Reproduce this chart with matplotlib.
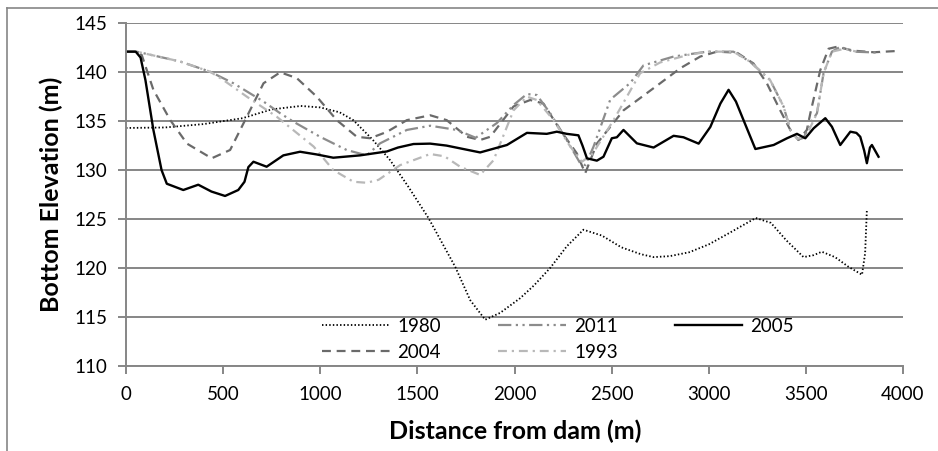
import matplotlib
matplotlib.use("Agg")
import matplotlib.pyplot as plt
from matplotlib.lines import Line2D

plt.rcParams["font.family"] = ["Lato", "DejaVu Sans"]

# ------------------------------------------------------------
# Data (distance m, elevation m)
# ------------------------------------------------------------
x_1980 = [0, 200, 400, 600, 750, 900, 1000, 1100, 1170, 1270, 1360, 1450, 1557,
          1695, 1772, 1849, 1926, 2029, 2100, 2184, 2269, 2355, 2450, 2550, 2650,
          2716, 2800, 2900, 3000, 3100, 3242, 3320, 3400, 3488, 3540, 3582, 3650,
          3720, 3789, 3805, 3814]
y_1980 = [134.3, 134.35, 134.7, 135.3, 136.2, 136.55, 136.4, 135.9, 135.1, 133.1,
          131.0, 128.4, 125.1, 120.1, 116.7, 114.7, 115.4, 116.9, 118.2, 120.0,
          122.2, 123.9, 123.3, 122.1, 121.4, 121.1, 121.2, 121.6, 122.4, 123.5,
          125.1, 124.6, 122.8, 121.1, 121.3, 121.65, 121.1, 120.1, 119.3, 121.5,
          125.9]

x_2011 = [0, 55, 278, 433, 553, 708, 794, 862, 999, 1136, 1239, 1308, 1446, 1566,
          1703, 1800, 1909, 1995, 2064, 2115, 2184, 2269, 2338, 2365, 2407, 2493,
          2596, 2664, 2819, 2990, 3127, 3213, 3316, 3385, 3420, 3454, 3489, 3523,
          3557, 3591, 3634, 3677, 3746, 3883]
y_2011 = [142.1, 142.1, 141.1, 140.05, 138.87, 137.0, 135.8, 134.94, 133.4, 132.05,
          131.5, 132.73, 134.1, 134.53, 134.1, 133.3, 134.8, 136.65, 137.77, 137.67,
          135.8, 133.07, 130.7, 130.5, 132.4, 137.2, 138.9, 140.7, 141.6, 142.1,
          142.1, 141.07, 139.2, 136.5, 134.1, 133.07, 133.3, 134.8, 135.8, 139.9,
          142.1, 142.6, 142.1, 142.0]

x_2005 = [0, 50, 75, 100, 141, 183, 210, 295, 372, 440, 510, 578, 610, 630, 656,
          724, 810, 896, 980, 1067, 1205, 1343, 1400, 1480, 1566, 1650, 1823, 1961,
          2064, 2166, 2218, 2269, 2329, 2350, 2373, 2424, 2458, 2501, 2527, 2561,
          2630, 2716, 2819, 2870, 2948, 3008, 3060, 3102, 3140, 3179, 3240, 3334,
          3403, 3454, 3497, 3540, 3600, 3634, 3677, 3729, 3760, 3780, 3800, 3814,
          3830, 3840, 3874]
y_2005 = [142.1, 142.1, 141.5, 139.2, 134.1, 130.0, 128.6, 127.96, 128.5, 127.8,
          127.35, 127.96, 128.8, 130.3, 130.85, 130.34, 131.5, 131.87, 131.6,
          131.26, 131.5, 131.9, 132.3, 132.66, 132.7, 132.5, 131.8, 132.56, 133.8,
          133.7, 133.92, 133.7, 133.55, 132.5, 131.2, 130.96, 131.36, 133.25,
          133.35, 134.1, 132.73, 132.3, 133.5, 133.35, 132.7, 134.4, 136.8, 138.2,
          137.0, 135.1, 132.15, 132.56, 133.25, 133.7, 133.25, 134.27, 135.3,
          134.43, 132.56, 133.92, 133.8, 133.4, 132.0, 130.7, 132.3, 132.56, 131.36]

x_2004 = [0, 50, 81, 141, 228, 314, 441, 536, 622, 708, 794, 879, 982, 1085, 1188,
          1257, 1343, 1446, 1566, 1651, 1755, 1823, 1875, 1995, 2081, 2149, 2235,
          2321, 2364, 2424, 2561, 2650, 2750, 2853, 2956, 3042, 3145, 3230, 3299,
          3368, 3420, 3462, 3505, 3523, 3574, 3617, 3660, 3746, 3849, 3969]
y_2004 = [142.1, 142.1, 141.76, 138.2, 135.1, 132.7, 131.2, 132.05, 135.45, 138.87,
          139.99, 139.4, 137.5, 135.1, 133.4, 133.25, 133.9, 135.1, 135.6, 135.1,
          133.4, 133.07, 133.4, 136.5, 137.16, 136.8, 134.1, 131.7, 129.67, 132.7,
          136.1, 137.4, 138.87, 140.4, 141.6, 142.1, 142.0, 140.9, 138.87, 136.1,
          134.1, 133.07, 134.1, 135.8, 140.2, 142.4, 142.6, 142.2, 142.04, 142.17]

x_1993 = [0, 55, 278, 433, 501, 622, 776, 966, 1067, 1171, 1239, 1300, 1411, 1566,
          1640, 1720, 1823, 1892, 1995, 2064, 2115, 2201, 2287, 2347, 2400, 2510,
          2647, 2750, 2900, 3000, 3127, 3213, 3316, 3385, 3420, 3454, 3500, 3557,
          3591, 3634, 3700, 3760]
y_1993 = [142.1, 142.1, 141.1, 140.05, 139.2, 137.5, 135.45, 132.4, 130.0, 128.8,
          128.7, 129.0, 130.5, 131.64, 131.4, 130.34, 129.5, 131.0, 136.1, 137.5,
          137.16, 135.1, 132.4, 130.85, 131.6, 135.1, 139.9, 141.0, 141.8, 142.1,
          142.1, 141.07, 139.2, 136.5, 134.1, 133.2, 133.4, 135.8, 139.9, 142.1,
          142.4, 142.1]

x_ticks = [0, 500, 1000, 1500, 2000, 2500, 3000, 3500, 4000]
y_ticks = [110, 115, 120, 125, 130, 135, 140, 145]

grid_color = "#868686"

fig = plt.figure(figsize=(9.38, 4.51), dpi=100)
ax = fig.add_axes([126 / 938, 1 - 365.7 / 451, (903 - 126) / 938, (365.7 - 23.3) / 451])

# series in legend order (column-major, 3 columns)
ax.plot(x_1980, y_1980, color="black", lw=1.3, dashes=(0.8, 1.2), label="1980")
ax.plot(x_2004, y_2004, color="#6a6a6a", lw=1.6, dashes=(4, 2.6), label="2004")
ax.plot(x_2011, y_2011, color="#8c8c8c", lw=1.6, dashes=(6, 2, 1, 2, 1, 2), label="2011")
ax.plot(x_1993, y_1993, color="#b8b8b8", lw=1.6, dashes=(4, 2.2, 1, 2.2), label="1993")
ax.plot(x_2005, y_2005, color="black", lw=1.7, label="2005")

ax.set_xlim(0, 4000)
ax.set_ylim(110, 145)
ax.set_xticks(x_ticks)
ax.set_yticks(y_ticks)
ax.yaxis.grid(True, color=grid_color, lw=1.4)
ax.set_axisbelow(True)

for side in ("top", "right"):
    ax.spines[side].set_visible(False)
for side in ("left", "bottom"):
    ax.spines[side].set_color(grid_color)
    ax.spines[side].set_linewidth(1.4)
ax.tick_params(axis="both", colors=grid_color, labelcolor="black",
               length=5.5, width=1.4, labelsize=13.5)
ax.tick_params(axis="y", pad=8)
ax.tick_params(axis="x", pad=9)

# axis titles centred on the positions measured in the reference
xlab = ax.set_xlabel("Distance from dam (m)", fontsize=18, fontweight="bold")
ylab = ax.set_ylabel("Bottom Elevation (m)", fontsize=18, fontweight="bold")
for lab in (xlab, ylab):
    lab.set_rotation_mode("default")
    lab.set_horizontalalignment("center")
    lab.set_verticalalignment("center")
ax.xaxis.set_label_coords(0.5006, -0.1907)
ax.yaxis.set_label_coords(-0.0965, 0.5)

ax.legend(loc="lower left", bbox_to_anchor=(322 / 938, 1 - 361 / 451),
          bbox_transform=fig.transFigure, ncol=3, frameon=False,
          fontsize=13.5, handlelength=3.6, handletextpad=0.43,
          columnspacing=3.05, labelspacing=0.5, borderpad=0, borderaxespad=0)

# outer chart border (partially visible in the reference)
fig.add_artist(Line2D([7 / 938, 7 / 938], [0, 1 - 8 / 451], color=grid_color, lw=1.2))
fig.add_artist(Line2D([7 / 938, 1], [1 - 8 / 451, 1 - 8 / 451], color=grid_color, lw=1.2))

fig.savefig("out.png", dpi=100)
